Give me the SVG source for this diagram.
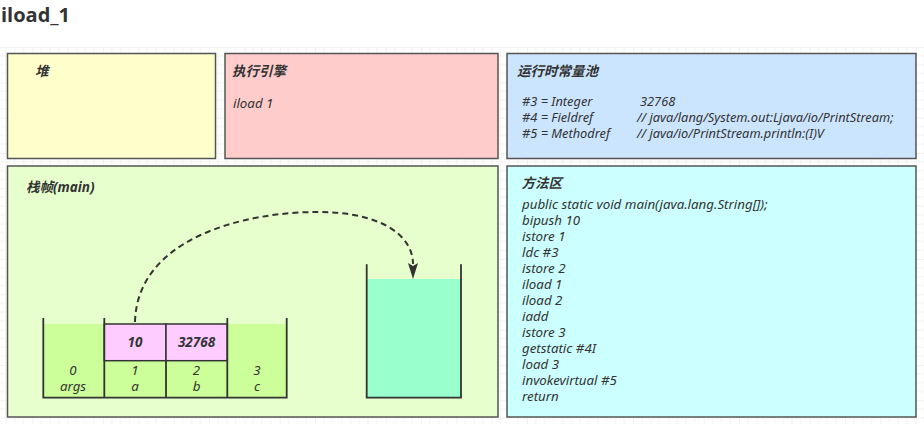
<svg xmlns="http://www.w3.org/2000/svg" width="924" height="424" viewBox="0 0 924 424">
<defs>
<pattern id="grid" patternUnits="userSpaceOnUse" x="32.4" y="47" width="35.33" height="35.33">
<path d="M8.83 0V35.33M17.67 0V35.33M26.5 0V35.33M0 8.83H35.33M0 17.67H35.33M0 26.5H35.33" stroke="#f1f1f1" stroke-width="1" fill="none"/>
<path d="M0 0V35.33M0 0H35.33" stroke="#e4e4e4" stroke-width="1" fill="none"/>
</pattern>
<style>
.box{stroke:#555;stroke-width:1.5}
.t{font-family:"Noto Sans","Noto Sans CJK SC",sans-serif;font-style:italic;fill:#333;font-size:13.3px}
.h{font-weight:bold;font-size:13.5px}
.c{text-anchor:middle}
.w{stroke:#333;stroke-width:1.8;fill:none}
.cell{stroke:#333;stroke-width:1.5}
.cp{font-size:12.8px}
</style>
</defs>
<rect x="0" y="0" width="924" height="424" fill="#fff"/>
<rect x="0" y="47" width="924" height="377" fill="url(#grid)"/>
<text x="1" y="22" font-family="'Open Sans','Noto Sans',sans-serif" font-weight="bold" font-size="20" fill="#333">iload_1</text>

<g id="heap">
<rect class="box" x="7.5" y="53.5" width="208" height="105" fill="#ffffcc"/>
<text class="t h" x="35" y="76">堆</text>
</g>

<g id="engine">
<rect class="box" x="225" y="53.5" width="273" height="105" fill="#ffcccc"/>
<text class="t h" x="232" y="76">执行引擎</text>
<text class="t" x="233" y="108">iload 1</text>
</g>

<g id="constant-pool">
<rect class="box" x="507" y="53.5" width="409" height="105" fill="#cce5ff"/>
<text class="t h" x="517" y="76">运行时常量池</text>
<text class="t cp" x="522" y="106">#3 = Integer</text>
<text class="t cp" x="640" y="106">32768</text>
<text class="t cp" x="522" y="122">#4 = Fieldref</text>
<text class="t cp" x="637" y="122">// java/lang/System.out:Ljava/io/PrintStream;</text>
<text class="t cp" x="522" y="138">#5 = Methodref</text>
<text class="t cp" x="637" y="138">// java/io/PrintStream.println:(I)V</text>
</g>

<g id="stack-frame">
<rect class="box" x="7.5" y="166" width="490.5" height="251" fill="#e6ffcc"/>
<text class="t h" x="26" y="192">栈帧(main)</text>
</g>

<g id="local-variables">
<rect x="43.3" y="324" width="243.4" height="73.7" fill="#ccff99"/>
<rect class="cell" x="104.3" y="324" width="61.7" height="36.7" fill="#ffccff"/>
<rect class="cell" x="166" y="324" width="61.3" height="36.7" fill="#ffccff"/>
<path class="w" d="M43.3 318V397.7H286.7V318M104.3 318V397.7M227.3 318V397.7M166 360.7V397.7"/>
<text class="t h c" x="135" y="347" font-size="12">10</text>
<text class="t h c" x="196.5" y="347" font-size="12">32768</text>
<text class="t c" x="73" y="375">0</text>
<text class="t c" x="73" y="391">args</text>
<text class="t c" x="135" y="375">1</text>
<text class="t c" x="135" y="391">a</text>
<text class="t c" x="196.5" y="375">2</text>
<text class="t c" x="196.5" y="391">b</text>
<text class="t c" x="257" y="375">3</text>
<text class="t c" x="257" y="391">c</text>
</g>

<g id="operand-stack">
<rect x="366.7" y="279" width="94.3" height="118.7" fill="#99ffcc"/>
<path class="w" d="M366.7 264.3V397.7H461V264.3"/>
</g>

<g id="method-area">
<rect class="box" x="507" y="166" width="409" height="251" fill="#ccffff"/>
<text class="t h" x="521.5" y="188">方法区</text>
<text class="t" x="522" y="209">public static void main(java.lang.String[]);</text>
<text class="t" x="522" y="225">bipush 10</text>
<text class="t" x="522" y="241">istore 1</text>
<text class="t" x="522" y="257">ldc #3</text>
<text class="t" x="522" y="273">istore 2</text>
<text class="t" x="522" y="289">iload 1</text>
<text class="t" x="522" y="305">iload 2</text>
<text class="t" x="522" y="320.5">iadd</text>
<text class="t" x="522" y="336.5">istore 3</text>
<text class="t" x="522" y="352.5">getstatic #4I</text>
<text class="t" x="522" y="368.5">load 3</text>
<text class="t" x="522" y="384.5">invokevirtual #5</text>
<text class="t" x="522" y="400.5">return</text>
</g>

<g id="connectors">
<path d="M135 322 C137 240 240 212 318 212 C382 212 413 236 413 264" fill="none" stroke="#333" stroke-width="2" stroke-dasharray="6 4"/>
<path d="M408 263 L413 266 L418 263 L413 279 Z" fill="#333"/>
</g>
</svg>
